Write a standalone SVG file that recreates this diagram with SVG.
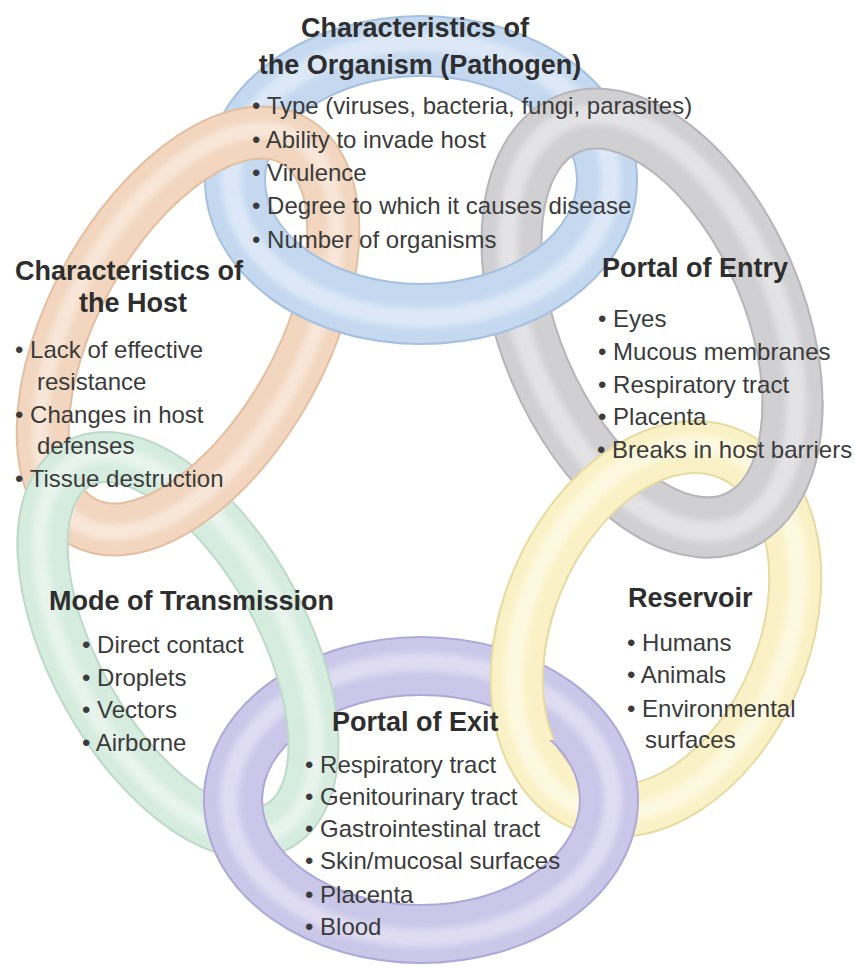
<svg xmlns="http://www.w3.org/2000/svg" width="855" height="969" viewBox="0 0 855 969">
  <defs>
    <style>
      .ring ellipse { fill: none; }
      .hl { filter: url(#soft); opacity: 0.8; }
      .t { font-family: "Liberation Sans", Arial, Helvetica, sans-serif; font-weight: bold; font-size: 27px; fill: #2e2e2e; }
      .b { font-family: "Liberation Sans", Arial, Helvetica, sans-serif; font-size: 24px; fill: #3b3b3b; }
    </style>
    <filter id="soft" x="-10%" y="-10%" width="120%" height="120%">
      <feGaussianBlur stdDeviation="3"/>
    </filter>
    <!-- regions where the ring drawn earlier passes over its neighbour -->
    <clipPath id="cp-pathogen-host" clipPathUnits="userSpaceOnUse"><rect x="268" y="240" width="92" height="120"/></clipPath>
    <clipPath id="cp-pathogen-entry" clipPathUnits="userSpaceOnUse"><rect x="460" y="200" width="190" height="150"/></clipPath>
    <clipPath id="cp-entry-reservoir" clipPathUnits="userSpaceOnUse"><rect x="697" y="400" width="145" height="170"/></clipPath>
    <clipPath id="cp-reservoir-exit" clipPathUnits="userSpaceOnUse"><rect x="470" y="610" width="110" height="130"/></clipPath>
    <clipPath id="cp-exit-transmission" clipPathUnits="userSpaceOnUse"><rect x="185" y="775" width="100" height="115"/></clipPath>
    <clipPath id="cp-transmission-host" clipPathUnits="userSpaceOnUse"><rect x="0" y="420" width="110" height="140"/></clipPath>
  </defs>

  <rect width="855" height="969" fill="#ffffff"/>

  <!-- the six links of the chain -->
  <g id="rings">
    <g id="ring-pathogen" class="ring" transform="translate(421 180)">
      <ellipse rx="186" ry="134" stroke="#a6c0e0" stroke-width="62"/>
      <ellipse rx="186" ry="134" stroke="#c4d8f0" stroke-width="58"/>
      <ellipse rx="190" ry="138" stroke="#e3edf9" stroke-width="20" class="hl"/>
    </g>
    <g id="ring-entry" class="ring" transform="translate(652 323) rotate(-23)">
      <ellipse rx="122" ry="216" stroke="#b5b5ba" stroke-width="62"/>
      <ellipse rx="122" ry="216" stroke="#d0d0d3" stroke-width="58"/>
      <ellipse rx="126" ry="220" stroke="#e8e8ea" stroke-width="20" class="hl"/>
    </g>
    <g id="ring-reservoir" class="ring" transform="translate(656 629) rotate(23)">
      <ellipse rx="128" ry="190" stroke="#e6dba0" stroke-width="54"/>
      <ellipse rx="128" ry="190" stroke="#faf2c6" stroke-width="50"/>
      <ellipse rx="131" ry="193" stroke="#fefbe8" stroke-width="18" class="hl"/>
    </g>
    <g id="ring-exit" class="ring" transform="translate(421 800)">
      <ellipse rx="188" ry="134" stroke="#aea9d6" stroke-width="60"/>
      <ellipse rx="188" ry="134" stroke="#cbc7e9" stroke-width="56"/>
      <ellipse rx="192" ry="138" stroke="#e4e2f5" stroke-width="18" class="hl"/>
    </g>
    <g id="ring-transmission" class="ring" transform="translate(178 645) rotate(-29)">
      <ellipse rx="104" ry="207" stroke="#bcdac9" stroke-width="52"/>
      <ellipse rx="104" ry="207" stroke="#d6ecdf" stroke-width="48"/>
      <ellipse rx="107" ry="210" stroke="#ecf7f0" stroke-width="16" class="hl"/>
    </g>
    <g id="ring-host" class="ring" transform="translate(188 331) rotate(29)">
      <ellipse rx="114" ry="218" stroke="#e3bfa0" stroke-width="54"/>
      <ellipse rx="114" ry="218" stroke="#f2d6bf" stroke-width="50"/>
      <ellipse rx="117" ry="221" stroke="#faebdf" stroke-width="16" class="hl"/>
    </g>
  </g>

  <!-- interlocking: re-draw each ring where it lies on top of its neighbour -->
  <g id="links">
    <use href="#ring-pathogen" clip-path="url(#cp-pathogen-host)"/>
    <use href="#ring-pathogen" clip-path="url(#cp-pathogen-entry)"/>
    <use href="#ring-entry" clip-path="url(#cp-entry-reservoir)"/>
    <use href="#ring-reservoir" clip-path="url(#cp-reservoir-exit)"/>
    <use href="#ring-exit" clip-path="url(#cp-exit-transmission)"/>
    <use href="#ring-transmission" clip-path="url(#cp-transmission-host)"/>
  </g>

  <!-- labels -->
  <g id="pathogen">
    <text class="t" x="415" y="37" text-anchor="middle">Characteristics of</text>
    <text class="t" x="420" y="74" text-anchor="middle">the Organism (Pathogen)</text>
    <text class="b" x="252" y="114">• Type (viruses, bacteria, fungi, parasites)</text>
    <text class="b" x="252" y="148">• Ability to invade host</text>
    <text class="b" x="252" y="181">• Virulence</text>
    <text class="b" x="252" y="214">• Degree to which it causes disease</text>
    <text class="b" x="252" y="248">• Number of organisms</text>
  </g>

  <g id="host">
    <text class="t" x="15" y="280">Characteristics of</text>
    <text class="t" x="133" y="312" text-anchor="middle">the Host</text>
    <text class="b" x="15" y="358">• Lack of effective</text>
    <text class="b" x="37" y="390">resistance</text>
    <text class="b" x="15" y="423">• Changes in host</text>
    <text class="b" x="37" y="454">defenses</text>
    <text class="b" x="15" y="487">• Tissue destruction</text>
  </g>

  <g id="entry">
    <text class="t" x="602" y="277">Portal of Entry</text>
    <text class="b" x="598" y="327">• Eyes</text>
    <text class="b" x="598" y="360">• Mucous membranes</text>
    <text class="b" x="598" y="393">• Respiratory tract</text>
    <text class="b" x="598" y="425">• Placenta</text>
    <text class="b" x="597" y="458">• Breaks in host barriers</text>
  </g>

  <g id="transmission">
    <text class="t" x="49" y="610">Mode of Transmission</text>
    <text class="b" x="82" y="653">• Direct contact</text>
    <text class="b" x="82" y="686">• Droplets</text>
    <text class="b" x="82" y="718">• Vectors</text>
    <text class="b" x="82" y="751">• Airborne</text>
  </g>

  <g id="reservoir">
    <text class="t" x="628" y="607">Reservoir</text>
    <text class="b" x="627" y="651">• Humans</text>
    <text class="b" x="627" y="683">• Animals</text>
    <text class="b" x="627" y="717">• Environmental</text>
    <text class="b" x="645" y="748">surfaces</text>
  </g>

  <g id="exit">
    <text class="t" x="332" y="731">Portal of Exit</text>
    <text class="b" x="305" y="773">• Respiratory tract</text>
    <text class="b" x="305" y="805">• Genitourinary tract</text>
    <text class="b" x="305" y="837">• Gastrointestinal tract</text>
    <text class="b" x="305" y="869">• Skin/mucosal surfaces</text>
    <text class="b" x="305" y="903">• Placenta</text>
    <text class="b" x="305" y="935">• Blood</text>
  </g>
</svg>
